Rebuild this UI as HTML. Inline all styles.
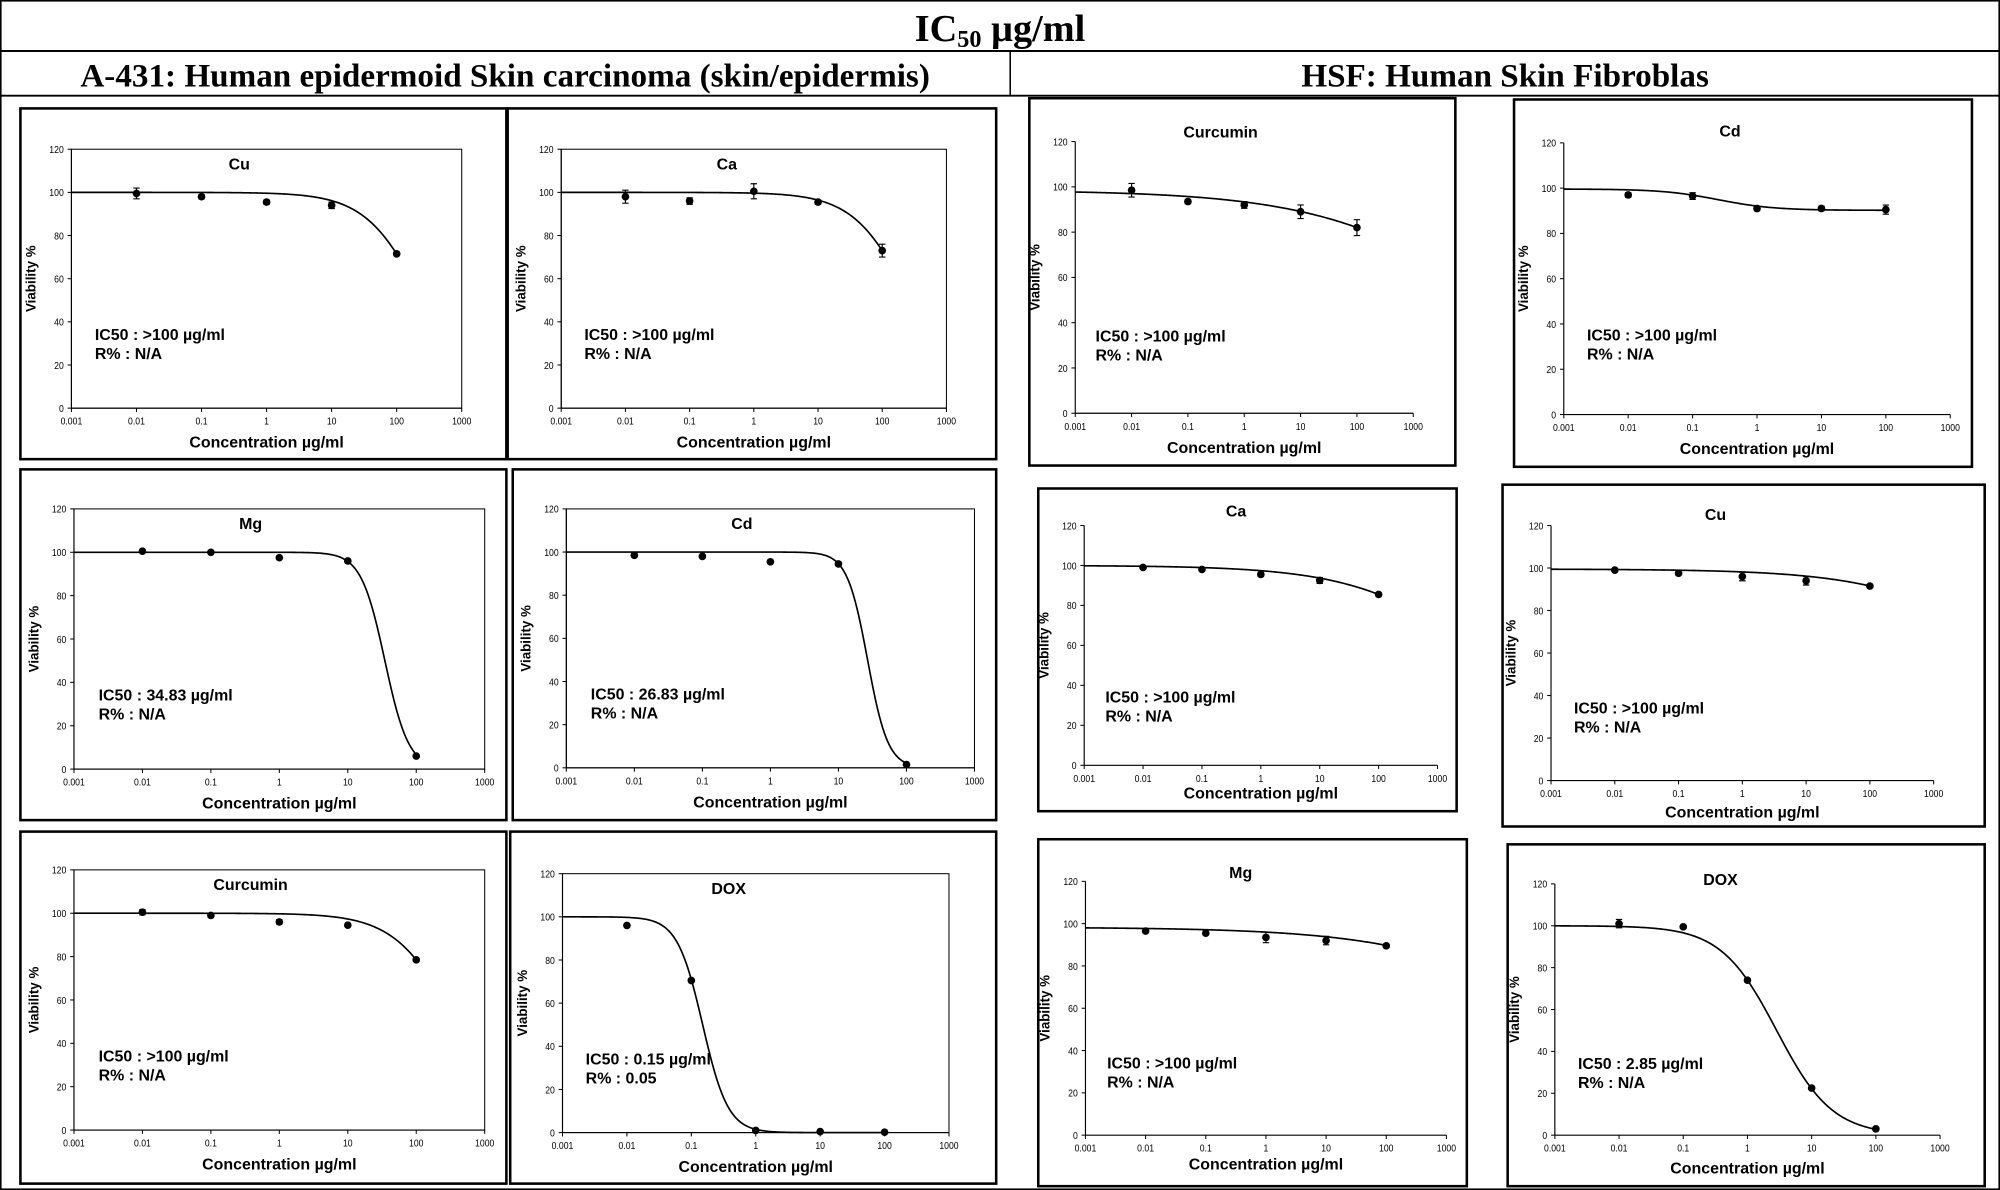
<!DOCTYPE html>
<html><head><meta charset="utf-8"><style>
html,body{margin:0;padding:0;background:#fff;}
svg{display:block;}
text{font-family:"Liberation Sans",Arial,sans-serif;}
.serif{font-family:"Liberation Serif","Times New Roman",serif;font-weight:bold;}
</style></head><body>
<svg id="fig" xmlns="http://www.w3.org/2000/svg" width="2000" height="1190" viewBox="0 0 1568 933" preserveAspectRatio="none">
<rect x="0.5" y="0.5" width="1567" height="932" fill="#fff" stroke="#000" stroke-width="1.5"/>
<text class="serif" x="784" y="32" font-size="30" text-anchor="middle">IC<tspan font-size="19" dy="5">50</tspan><tspan dy="-5"> µg/ml</tspan></text>
<line x1="0" y1="40" x2="1568" y2="40" stroke="#000" stroke-width="1.5"/>
<line x1="792" y1="40" x2="792" y2="75" stroke="#000" stroke-width="1.2"/>
<line x1="0" y1="75" x2="1568" y2="75" stroke="#000" stroke-width="1.5"/>
<text class="serif" x="396" y="68" font-size="26" text-anchor="middle">A-431: Human epidermoid Skin carcinoma (skin/epidermis)</text>
<text class="serif" x="1180" y="68" font-size="26" text-anchor="middle">HSF: Human Skin Fibroblas</text>
<g id="panels"></g>
</svg>
<script>
const concentrations = [0.01, 0.1, 1, 10, 100];
const xTickLabels = ["0.001","0.01","0.1","1","10","100","1000"];
const yTickLabels = [0,20,40,60,80,100,120];
// A-431 series
const a431CuValues = [99.5, 98, 95.5, 94, 71.5];
const a431CuErrors = [2.5, 1, 1, 1.5, 0.5];
const a431CaValues = [98, 96, 100.5, 95.5, 73];
const a431CaErrors = [3, 1.5, 3.5, 1, 3];
const a431MgValues = [100.5, 100, 97.5, 96, 6];
const a431MgErrors = [0.8, 0.5, 0.8, 0.8, 0.5];
const a431CdValues = [98.5, 98, 95.5, 94.5, 1.5];
const a431CdErrors = [0.8, 0.5, 0.8, 0.8, 0.5];
const a431CurValues = [100.5, 99, 96, 94.5, 78.5];
const a431CurErrors = [1.2, 0.8, 1, 0.8, 0.5];
const a431DoxValues = [96, 70.5, 1, 0.5, 0.2];
const a431DoxErrors = [0.5, 0.5, 0.8, 0.5, 0.3];
// HSF series
const hsfCurValues = [98.5, 93.5, 92, 89, 82];
const hsfCurErrors = [3, 1, 1.5, 3, 3.5];
const hsfCdValues = [97, 96.5, 91, 91, 90.5];
const hsfCdErrors = [1, 1.5, 1, 1, 2];
const hsfCaValues = [99, 98, 95.5, 92.5, 85.5];
const hsfCaErrors = [0.5, 0.5, 1, 1.5, 0.8];
const hsfCuValues = [99, 97.5, 96, 94, 91.5];
const hsfCuErrors = [0.8, 0.5, 2, 2, 0.8];
const hsfMgValues = [96.5, 95.5, 93.5, 92, 89.5];
const hsfMgErrors = [0.8, 0.8, 2.5, 2, 0.8];
const hsfDoxValues = [101, 99.5, 74, 22.5, 3];
const hsfDoxErrors = [2, 0.8, 0.8, 0.8, 0.5];
// Fit parameters [top, bottom, ic50, hill]
const a431CuFit = [100, 0, 250, 1];
const a431CaFit = [100, 0, 270, 1];
const a431MgFit = [100, 0, 34.83, 2.5];
const a431CdFit = [100, 0, 26.83, 2.9];
const a431CurFit = [100, 0, 365, 1];
const a431DoxFit = [100, 0, 0.15, 2.2];
const hsfCurFit = [98.5, 0, 31000, 0.28];
const hsfCdFit = [99.6, 90.2, 0.25, 1];
const hsfCaFit = [100, 0, 8400, 0.4];
const hsfCuFit = [99.5, 0, 44800, 0.4];
const hsfMgFit = [98.3, 0, 250000, 0.3];
const hsfDoxFit = [100, 0, 2.85, 1];

const layouts = [
 {name:"a431-cu",title:"Cu",v:a431CuValues,e:a431CuErrors,f:a431CuFit,ic:"IC50 : >100 µg/ml",r:"R% : N/A",box:[16,85,381,275],p:[56,362,320,117],frame:true,ty:113,ly:34,xo:31},
 {name:"a431-ca",title:"Ca",v:a431CaValues,e:a431CaErrors,f:a431CaFit,ic:"IC50 : >100 µg/ml",r:"R% : N/A",box:[398,85,383,275],p:[440,742,320,117],frame:true,ty:113,ly:34,xo:31},
 {name:"a431-mg",title:"Mg",v:a431MgValues,e:a431MgErrors,f:a431MgFit,ic:"IC50 : 34.83 µg/ml",r:"R% : N/A",box:[16,368,381,275],p:[58,380,603,399],frame:true,ty:113,ly:34,xo:31},
 {name:"a431-cd",title:"Cd",v:a431CdValues,e:a431CdErrors,f:a431CdFit,ic:"IC50 : 26.83 µg/ml",r:"R% : N/A",box:[402,368,379,275],p:[444,764,602,399],frame:true,ty:113,ly:34,xo:31},
 {name:"a431-curcumin",title:"Curcumin",v:a431CurValues,e:a431CurErrors,f:a431CurFit,ic:"IC50 : >100 µg/ml",r:"R% : N/A",box:[16,652,381,276],p:[58,380,886,682],frame:true,ty:113,ly:34,xo:31},
 {name:"a431-dox",title:"DOX",v:a431DoxValues,e:a431DoxErrors,f:a431DoxFit,ic:"IC50 : 0.15 µg/ml",r:"R% : 0.05",box:[400,652,381,276],p:[441,744,888,685],frame:true,ty:113,ly:34,xo:31},
 {name:"hsf-curcumin",title:"Curcumin",v:hsfCurValues,e:hsfCurErrors,f:hsfCurFit,ic:"IC50 : >100 µg/ml",r:"R% : N/A",box:[807,77,334,288],p:[843,1108,324,111],frame:false,ty:124,ly:34,xo:31},
 {name:"hsf-cd",title:"Cd",v:hsfCdValues,e:hsfCdErrors,f:hsfCdFit,ic:"IC50 : >100 µg/ml",r:"R% : N/A",box:[1187,78,359,288],p:[1226,1529,325,112],frame:false,ty:125,ly:35,xo:31},
 {name:"hsf-ca",title:"Ca",v:hsfCaValues,e:hsfCaErrors,f:hsfCaFit,ic:"IC50 : >100 µg/ml",r:"R% : N/A",box:[814,383,328,253],p:[850,1127,600,412],frame:false,ty:127,ly:34,xo:26},
 {name:"hsf-cu",title:"Cu",v:hsfCuValues,e:hsfCuErrors,f:hsfCuFit,ic:"IC50 : >100 µg/ml",r:"R% : N/A",box:[1178,380,378,268],p:[1216,1516,612,412],frame:false,ty:125,ly:34,xo:29},
 {name:"hsf-mg",title:"Mg",v:hsfMgValues,e:hsfMgErrors,f:hsfMgFit,ic:"IC50 : >100 µg/ml",r:"R% : N/A",box:[814,658,336,272],p:[851,1134,890,691],frame:false,ty:124,ly:34,xo:27},
 {name:"hsf-dox",title:"DOX",v:hsfDoxValues,e:hsfDoxErrors,f:hsfDoxFit,ic:"IC50 : 2.85 µg/ml",r:"R% : N/A",box:[1182,662,374,268],p:[1219,1521,890,693],frame:false,ty:122,ly:34,xo:30}
];
const NS="http://www.w3.org/2000/svg";
const root=document.getElementById("panels");
function mk(tag,attrs,parent){const el=document.createElementNS(NS,tag);for(const k in attrs)el.setAttribute(k,attrs[k]);parent.appendChild(el);return el;}
function hill(f,x){return f[1]+(f[0]-f[1])/(1+Math.pow(x/f[2],f[3]));}
layouts.forEach(L=>{
 const g=mk("g",{},root);
 
 
 const [bx,by,bw,bh]=L.box;
 const br=mk("rect",{x:bx,y:by,width:bw,height:bh,fill:"#fff",stroke:"#000","stroke-width":2},g);
 
 
 const [x0,x1,y0,y1]=L.p;
 const xs=v=>x0+(Math.log10(v)+3)/6*(x1-x0);
 const ys=v=>y0+(v/120)*(y1-y0);
 if(L.frame){
  const fr=mk("rect",{x:x0,y:y1,width:x1-x0,height:y0-y1,fill:"none",stroke:"#000","stroke-width":0.8},g);
  
  
 }
 const ya=mk("line",{x1:x0,y1:y0,x2:x0,y2:y1,stroke:"#000","stroke-width":0.9},g);
 
 
 const xa=mk("line",{x1:x0,y1:y0,x2:x1,y2:y0,stroke:"#000","stroke-width":0.9},g);
 
 
 yTickLabels.forEach(t=>{
  const y=ys(t);
  mk("line",{x1:x0-3,y1:y,x2:x0,y2:y,stroke:"#000","stroke-width":0.8},g);
  const tl=mk("text",{x:x0-6,y:y+3,"font-size":8,"text-anchor":"end",transform:`translate(${x0-6},0) scale(0.85,1) translate(${-(x0-6)},0)`},g);
  tl.textContent=t;
  
  
 });
 xTickLabels.forEach(t=>{
  const x=xs(parseFloat(t));
  mk("line",{x1:x,y1:y0,x2:x,y2:y0+3,stroke:"#000","stroke-width":0.8},g);
  const tl=mk("text",{x:x,y:y0+13,"font-size":8,"text-anchor":"middle",transform:`translate(${x},0) scale(0.85,1) translate(${-x},0)`},g);
  tl.textContent=t;
  
  
 });
 const xt=mk("text",{x:(x0+x1)/2,y:y0+L.xo,"font-size":12.5,"font-weight":"bold","text-anchor":"middle"},g);
 xt.textContent="Concentration µg/ml";
 
 
 const ycx=x0-28, ycy=(y0+y1)/2;
 const yt=mk("text",{x:ycx,y:ycy,"font-size":10.5,"font-weight":"bold","text-anchor":"middle",transform:`rotate(-90 ${ycx} ${ycy})`},g);
 yt.textContent="Viability %";
 
 
 const tt=mk("text",{x:(x0+x1)/2-(x1-x0)*0.07,y:ys(L.ty)+4,"font-size":12.5,"font-weight":"bold","text-anchor":"middle"},g);
 tt.textContent=L.title;
 
 
 const t1=mk("text",{x:x0+(x1-x0)*0.06,y:ys(L.ly)+4,"font-size":12.5,"font-weight":"bold"},g);
 t1.textContent=L.ic;
 
 
 const t2=mk("text",{x:x0+(x1-x0)*0.06,y:ys(L.ly)+4+15,"font-size":12.5,"font-weight":"bold"},g);
 t2.textContent=L.r;
 
 
 let d="";
 for(let i=0;i<=200;i++){const lx=-3+i*5/200;const x=Math.pow(10,lx);d+=(i?"L":"M")+xs(x).toFixed(2)+","+ys(hill(L.f,x)).toFixed(2);}
 const cv=mk("path",{d:d,fill:"none",stroke:"#000","stroke-width":1.3},g);
 
 
 concentrations.forEach((c,i)=>{
  const x=xs(c),y=ys(L.v[i]),eh=Math.abs(ys(L.e[i])-ys(0));
  const eb=mk("path",{d:`M${x},${y-eh}V${y+eh}M${x-2.5},${y-eh}H${x+2.5}M${x-2.5},${y+eh}H${x+2.5}`,stroke:"#000","stroke-width":0.9,fill:"none"},g);
  
  
  const pt=mk("circle",{cx:x,cy:y,r:3,fill:"#000"},g);
  
  
 });
});
</script>
</body></html>
